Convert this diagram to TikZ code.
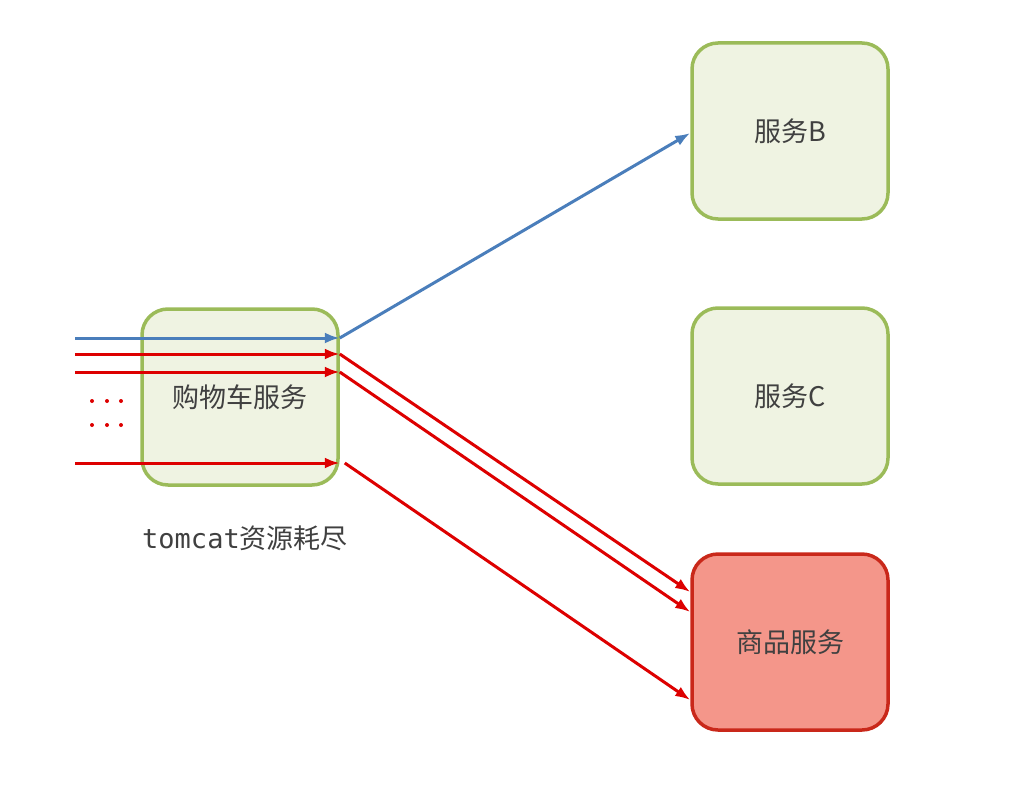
\documentclass[tikz,border=0pt]{standalone}
\usepackage{fontspec}
\setmainfont{Noto Sans CJK SC}
\setmonofont{DejaVu Sans Mono}
\usetikzlibrary{arrows.meta}

\definecolor{boxgreen}{HTML}{9BBB59}
\definecolor{boxfill}{HTML}{EFF3E2}
\definecolor{hotred}{HTML}{C9281A}
\definecolor{hotfill}{HTML}{F4968A}
\definecolor{callblue}{HTML}{4A7EBB}
\definecolor{callred}{HTML}{DD0000}
\definecolor{txtgray}{HTML}{404040}

\begin{document}
\begin{tikzpicture}[x = 1pt, y = -1pt, > = {Latex[length = 15pt, width = 11pt]},
	svc/.style = {draw = boxgreen, fill = boxfill, line width = 3.5pt, rounded corners = 26pt,
		minimum width = 196pt, minimum height = 176pt, text = txtgray, font = \fontsize{27}{32}\selectfont},
	hot/.style = {svc, draw = hotred, fill = hotfill},
	bluecall/.style = {callblue, line width = 3pt, ->},
	redcall/.style = {callred, line width = 3pt, ->}]

	\useasboundingbox (0, 0) rectangle (1024, 792);

	% Services

	\node [svc] (cart) at (240, 397) {购物车服务};
	\node [svc] (svcb) at (790, 131) {服务B};
	\node [svc] (svcc) at (790, 396) {服务C};
	\node [hot] (goods) at (790, 642) {商品服务};

	\node [text = txtgray, font = \fontsize{27}{32}\selectfont] (note) at (245, 538) {\texttt{tomcat}资源耗尽};

	% Incoming requests

	\coordinate (in1) at (75, 338);
	\coordinate (in2) at (75, 354);
	\coordinate (in3) at (75, 372);
	\coordinate (in4) at (75, 463);

	\draw [bluecall] (in1) -- (in1 -| cart.east);
	\foreach \i in {2, 3, 4}
		\draw [redcall] (in\i) -- (in\i -| cart.east);

	\foreach \y in {401, 425}
		\foreach \x in {92, 107, 121}
			\fill [callred] (\x, \y) circle (2pt);

	% Outgoing calls

	\draw [bluecall] (in1 -| cart.east) -- ([yshift = -2pt] svcb.west);
	\draw [redcall] (in2 -| cart.east) -- ([yshift = 50pt] goods.west);
	\draw [redcall] (in3 -| cart.east) -- ([yshift = 30pt] goods.west);
	\draw [redcall] ([xshift = 5pt] in4 -| cart.east) -- ([yshift = -58pt] goods.west);

\end{tikzpicture}
\end{document}
